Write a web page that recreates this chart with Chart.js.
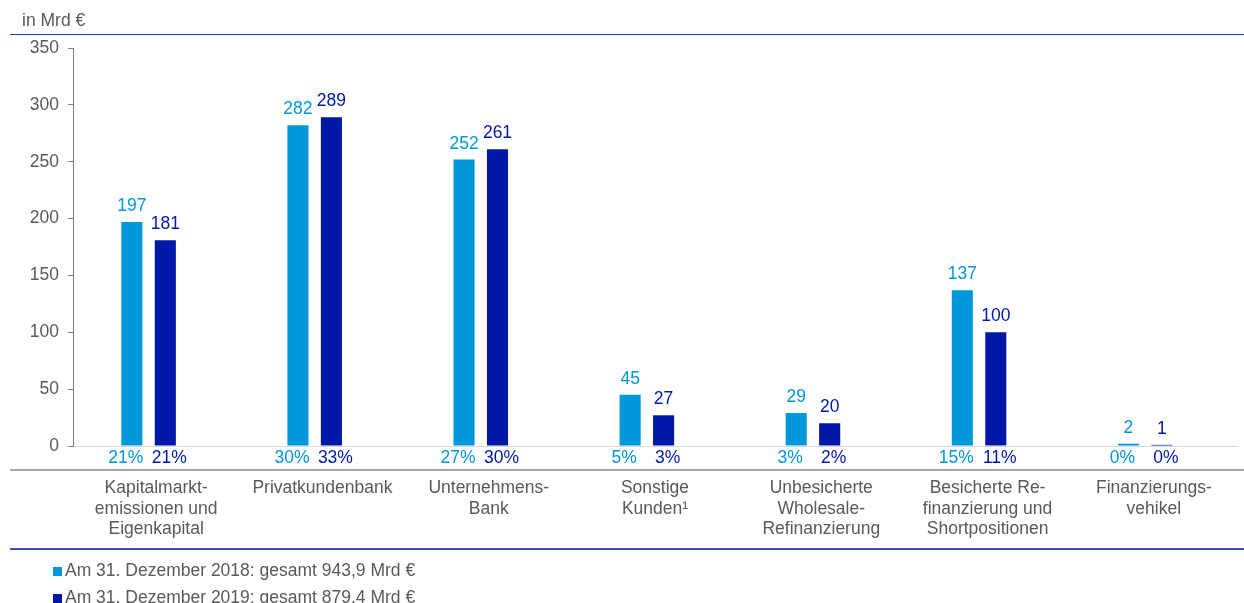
<!DOCTYPE html>
<html>
<head>
<meta charset="utf-8">
<script src="https://cdn.jsdelivr.net/npm/chart.js@4"></script>
<style>
  html, body { margin: 0; padding: 0; background: #fff; }
  #wrap { position: relative; width: 1244px; height: 603px; font-family: "Liberation Sans", Arial, sans-serif; color: #595959; }
  #chart { position: absolute; left: 0; top: 0; }
  .rule { position: absolute; left: 10px; right: 0; }
  .unit { position: absolute; left: 22px; top: 10px; font-size: 17.5px; }
  .legend { position: absolute; left: 53px; font-size: 17.5px; line-height: 20px; }
  .legend i { display: inline-block; width: 9px; height: 9px; margin-right: 3px; vertical-align: 0px; }
</style>
</head>
<body>
<div id="wrap">
  <canvas id="chart" width="1244" height="603"></canvas>
  <div class="unit">in Mrd €</div>
  <div class="rule" style="top:34px;height:1px;background:#1b3fcf"></div>
  <div class="rule" style="top:469px;height:2px;background:#a6a6a6"></div>
  <div class="rule" style="top:548px;height:2px;background:#3a50c0"></div>
  <div class="legend" style="top:560px"><i style="background:#0098DB"></i>Am 31. Dezember 2018: gesamt 943,9 Mrd €</div>
  <div class="legend" style="top:587px"><i style="background:#0018A8"></i>Am 31. Dezember 2019: gesamt 879,4 Mrd €</div>
</div>
<script>
  const categories = [
    ['Kapitalmarkt-', 'emissionen und', 'Eigenkapital'],
    ['Privatkundenbank'],
    ['Unternehmens-', 'Bank'],
    ['Sonstige', 'Kunden¹'],
    ['Unbesicherte', 'Wholesale-', 'Refinanzierung'],
    ['Besicherte Re-', 'finanzierung und', 'Shortpositionen'],
    ['Finanzierungs-', 'vehikel']
  ];
  const values2018 = [197, 282, 252, 45, 29, 137, 2];
  const values2019 = [181, 289, 261, 27, 20, 100, 1];
  const share2018 = ['21%', '30%', '27%', '5%', '3%', '15%', '0%'];
  const share2019 = ['21%', '33%', '30%', '3%', '2%', '11%', '0%'];
  const yTicks = [0, 50, 100, 150, 200, 250, 300, 350];

  const LIGHT = '#0098DB';
  const DARK = '#0018A8';
  const GREY = '#595959';
  const FONT = '"Liberation Sans", Arial, sans-serif';

  // value labels above bars, shares below the zero line
  const barLabels = {
    id: 'barLabels',
    afterDatasetsDraw(chart) {
      const ctx = chart.ctx;
      const shares = [share2018, share2019];
      const shareShift = [-6, 4];
      ctx.save();
      ctx.textAlign = 'center';
      ctx.font = '17.5px ' + FONT;
      chart.data.datasets.forEach((ds, di) => {
        const meta = chart.getDatasetMeta(di);
        ctx.fillStyle = ds.backgroundColor;
        meta.data.forEach((bar, i) => {
          ctx.textBaseline = 'bottom';
          ctx.fillText(String(ds.data[i].y), bar.x, bar.y - 7);
          ctx.textBaseline = 'middle';
          ctx.fillText(shares[di][i], bar.x + shareShift[di], chart.chartArea.bottom + 12);
        });
      });
      ctx.restore();
    }
  };

  new Chart(document.getElementById('chart'), {
    type: 'bar',
    data: {
      datasets: [
        { label: '2018', data: values2018.map((v, i) => ({ x: i, y: v })), backgroundColor: LIGHT },
        { label: '2019', data: values2019.map((v, i) => ({ x: i, y: v })), backgroundColor: DARK }
      ]
    },
    options: {
      responsive: false,
      animation: false,
      categoryPercentage: 0.403,
      barPercentage: 0.63,
      layout: { padding: { top: 48, right: 7, left: 0, bottom: 0 } },
      plugins: { legend: { display: false }, tooltip: { enabled: false } },
      scales: {
        // bar positions
        x: {
          type: 'linear',
          position: 'bottom',
          offset: false,
          min: -0.455,
          max: 6.553,
          grid: { display: false, offset: false },
          border: { color: '#d9d9d9', width: 1 },
          afterFit(scale) { scale.height = 0; },
          ticks: { display: false, stepSize: 1, includeBounds: false }
        },
        // category labels
        cat: {
          type: 'category',
          position: 'bottom',
          labels: categories,
          offset: true,
          grid: { display: false },
          border: { display: false },
          afterFit(scale) { scale.height = 157; },
          ticks: {
            autoSkip: false,
            maxRotation: 0,
            padding: 24,
            color: GREY,
            font: { family: FONT, size: 17.5, lineHeight: 1.17 }
          }
        },
        y: {
          min: 0,
          max: 350,
          afterFit(scale) { scale.width = 73; },
          afterBuildTicks(scale) { scale.ticks = yTicks.map(v => ({ value: v })); },
          grid: { drawOnChartArea: false, drawTicks: true, tickLength: 5, color: '#7f7f7f' },
          border: { color: '#7f7f7f', width: 1 },
          ticks: {
            padding: 9,
            color: GREY,
            font: { family: FONT, size: 17.5 }
          }
        }
      }
    },
    plugins: [barLabels]
  });
</script>
</body>
</html>
